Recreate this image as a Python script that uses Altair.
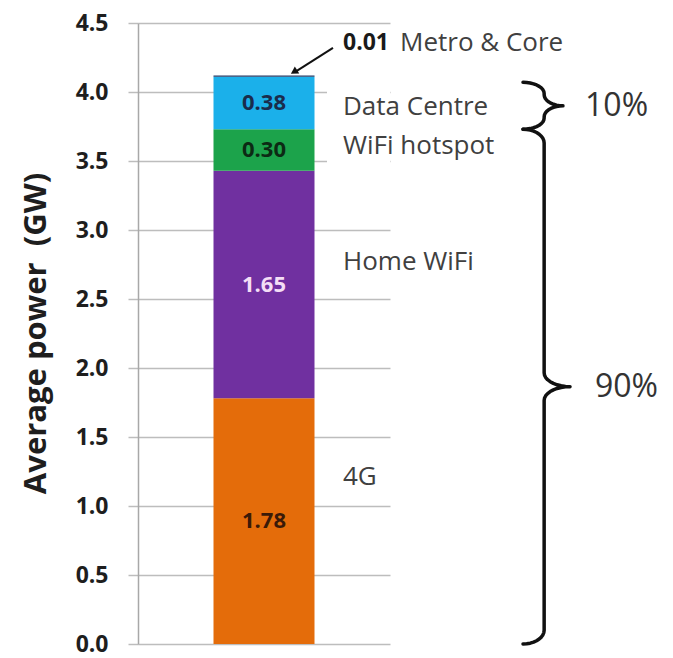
import altair as alt
import numpy as np
import pandas as pd

# Stacked segments, bottom to top
segments = ["4G", "Home WiFi", "WiFi hotspot", "Data Centre", "Metro & Core"]
power_gw = [1.78, 1.65, 0.30, 0.38, 0.01]
seg_colors = ["#e46c0a", "#7030a0", "#1ca34b", "#1bb0ea", "#1f3864"]
value_text_colors = ["#3a1a08", "#f4def6", "#0c2a14", "#1a2c4c", "#1a1a1a"]

# Where the segment names sit on the right of the bar (GW)
name_anchor_gw = [1.21, 2.77, 3.61, 3.89, 4.355]

# Braces grouping the segments
brace_names = ["10%", "90%"]
brace_lo_gw = [3.73, 0.0]
brace_hi_gw = [4.07, 3.73]
brace_tip = [0.85, 1.0]
pct_offset = [1.32, 1.53]

y_ticks = [i * 0.5 for i in range(10)]

FONT = "Open Sans"

bar_df = pd.DataFrame({"segment": segments, "power": power_gw,
                       "txtcolor": value_text_colors, "name_y": name_anchor_gw})
bar_df["top"] = bar_df["power"].cumsum()
bar_df["bottom"] = bar_df["top"] - bar_df["power"]
bar_df["mid"] = (bar_df["top"] + bar_df["bottom"]) / 2
bar_df["stack"] = "Total"
bar_df["label"] = bar_df["power"].map(lambda v: f"{v:.2f}")

inside = bar_df.iloc[:4]
metro = bar_df.iloc[4:]

y_scale = alt.Scale(domain=[0, 4.5], nice=False)
y_axis = alt.Axis(values=y_ticks, format=".1f",
                  title="Average power\u00a0 (GW)", grid=True,
                  gridColor="#bdbdbd", gridWidth=1.5,
                  domainColor="#a8a8a8", domainWidth=1.5,
                  tickColor="#bdbdbd", tickSize=10, tickWidth=1.5,
                  labelFont=FONT, labelFontSize=23, labelFontWeight="bold",
                  labelColor="#1e1e1e", labelPadding=20,
                  titleFont=FONT, titleFontSize=31, titleFontWeight="bold",
                  titleColor="#1e1e1e", titleX=-102, titleY=310,
                  titleAngle=270, titleAlign="center", titleBaseline="middle")
x_band = alt.Scale(domain=["Total"])


def Y(field):
    return alt.Y(field, scale=y_scale, axis=y_axis)


def brace_path(lo, hi, tip, spine=0.45, steps=10):
    """Curly-brace outline in (u, GW) coordinates, opening to the left."""
    r = min(0.1, (hi - lo) / 4.2)
    mid = (lo + hi) / 2
    t = np.linspace(0, np.pi / 2, steps)
    pts = []
    # upper hook
    for a in t[::-1]:
        pts.append((spine * np.cos(a), hi - r + r * np.sin(a)))
    # curve into the tip
    for a in t:
        pts.append((tip - (tip - spine) * np.cos(a), mid + r - r * np.sin(a)))
    # curve back out of the tip
    for a in t[::-1]:
        pts.append((tip - (tip - spine) * np.cos(a), mid - r + r * np.sin(a)))
    # lower hook
    for a in t:
        pts.append((spine * np.cos(a), lo + r - r * np.sin(a)))
    return pts


rows = []
for name, lo, hi, tip in zip(brace_names, brace_lo_gw, brace_hi_gw, brace_tip):
    for k, (u, y) in enumerate(brace_path(lo, hi, tip)):
        rows.append({"brace": name, "k": k, "u": u, "y": y})
brace_df = pd.DataFrame(rows)

pct_df = pd.DataFrame({"pct": brace_names,
                       "mid": [(a + b) / 2 for a, b in zip(brace_lo_gw, brace_hi_gw)],
                       "u": pct_offset})

brace_x = alt.Scale(domain=[0, 1], range=[385, 432])

bars = alt.Chart(bar_df).mark_bar(size=101).encode(
    x=alt.X("stack:N", scale=x_band, axis=None),
    y=Y("bottom:Q"),
    y2="top:Q",
    color=alt.Color("segment:N", scale=alt.Scale(domain=segments, range=seg_colors), legend=None))

# White panel behind the upper segment names
mask = alt.Chart(pd.DataFrame({"lo": [3.45], "hi": [4.05]})).mark_rect(color="white").encode(
    x=alt.value(189), x2=alt.value(252),
    y=Y("lo:Q"), y2="hi:Q")

values = alt.Chart(inside).mark_text(font=FONT, fontSize=22, fontWeight="bold",
                                     baseline="middle").encode(
    x=alt.X("stack:N", scale=x_band, axis=None),
    y=Y("mid:Q"),
    text="label:N",
    color=alt.Color("txtcolor:N", scale=None))

names = alt.Chart(inside).mark_text(font=FONT, fontSize=26, align="left", baseline="middle",
                                    color="#404040").encode(
    x=alt.value(205),
    y=Y("name_y:Q"),
    text="segment:N")

metro_value = alt.Chart(metro).mark_text(font=FONT, fontSize=23, fontWeight="bold", align="left",
                                         baseline="middle", color="#1a1a1a").encode(
    x=alt.value(205),
    y=Y("name_y:Q"),
    text="label:N")

metro_name = alt.Chart(metro).mark_text(font=FONT, fontSize=26, align="left", baseline="middle",
                                        color="#404040").encode(
    x=alt.value(262),
    y=Y("name_y:Q"),
    text="segment:N")

arrow_df = pd.DataFrame({"y0": [4.32], "y1": [4.15]})
arrow_shaft = alt.Chart(arrow_df).mark_rule(color="#111111", strokeWidth=2).encode(
    x=alt.value(195), x2=alt.value(158),
    y=Y("y0:Q"), y2="y1:Q")
arrow_head = alt.Chart(arrow_df).mark_point(shape="triangle", filled=True, size=70, angle=238,
                                            color="#111111", opacity=1).encode(
    x=alt.value(157),
    y=Y("y1:Q"))

braces = alt.Chart(brace_df).mark_line(color="#111111", strokeWidth=3.5,
                                       strokeJoin="round", strokeCap="round").encode(
    x=alt.X("u:Q", scale=brace_x, axis=None),
    y=Y("y:Q"),
    detail="brace:N",
    order="k:Q")

pcts = alt.Chart(pct_df).mark_text(font=FONT, fontSize=32, align="left", baseline="middle",
                                   color="#333333").encode(
    x=alt.X("u:Q", scale=brace_x, axis=None),
    y=Y("mid:Q"),
    text="pct:N")

chart = alt.layer(
    bars, mask, values, names, metro_value, metro_name, arrow_shaft, arrow_head, braces, pcts
).resolve_scale(
    x="independent", color="independent"
).properties(
    width=252, height=621,
    padding={"left": 138, "top": 23, "right": 283, "bottom": 14},
    autosize=alt.AutoSizeParams(type="none"),
    background="white",
).configure_view(stroke=None)

chart.save("out.html", embed_options={"renderer": "svg", "actions": False})
